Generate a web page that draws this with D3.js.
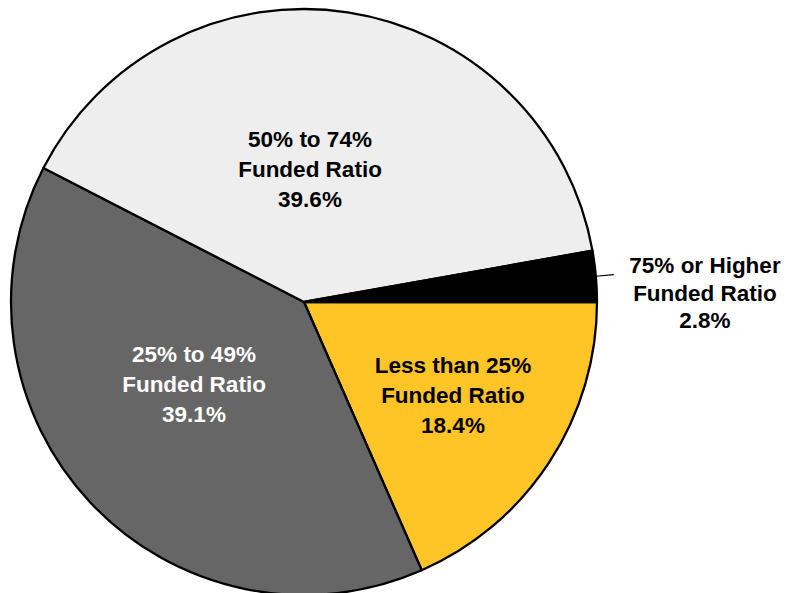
<!DOCTYPE html>
<html><head><meta charset="utf-8">
<script src="https://cdn.jsdelivr.net/npm/d3@7"></script>
<style>body{margin:0;background:#fff}svg{display:block}</style>
</head><body>
<svg id="c" width="788" height="593"></svg>
<script>
const categories = ["Less than 25%", "25% to 49%", "50% to 74%", "75% or Higher"];
const values = [18.4, 39.1, 39.6, 2.8];
const valueLabels = ["18.4%", "39.1%", "39.6%", "2.8%"];
const colors = ["#FFC425", "#666666", "#EEEEEE", "#000000"];
const textColors = ["#000", "#fff", "#000", "#000"];

const W = 788, H = 593, cx = 304, cy = 302, R = 293;
const svg = d3.select("#c");
const g = svg.append("g").attr("transform", `translate(${cx},${cy})`);
const data = categories.map((c, i) => ({c, v: values[i], lab: valueLabels[i], col: colors[i], tc: textColors[i]}));
const pie = d3.pie().value(d => d.v).sort(null).startAngle(Math.PI / 2).endAngle(Math.PI / 2 + 2 * Math.PI);
const arcs = pie(data);
const arc = d3.arc().innerRadius(0).outerRadius(R);

g.selectAll("path").data(arcs).enter().append("path")
  .attr("d", arc).attr("fill", d => d.data.col)
  .attr("stroke", "#000").attr("stroke-width", 2.3).attr("stroke-linejoin", "round");

// label placement: offsets from center (layout only)
const labelPos = [
  {x: 149, y: 93, ls: 30},
  {x: -110, y: 82, ls: 30},
  {x: 6, y: -133, ls: 30},
  {x: 401, y: -9, ls: 27.5}
];
const fs = 22.5;
arcs.forEach((a, i) => {
  const p = labelPos[i];
  const lines = [a.data.c, "Funded Ratio", a.data.lab];
  const t = g.append("text").attr("text-anchor", "middle")
    .attr("font-family", "'Liberation Sans', Arial, Helvetica, sans-serif")
    .attr("font-weight", "bold").attr("font-size", fs).attr("fill", a.data.tc);
  lines.forEach((l, k) => {
    t.append("tspan").attr("x", p.x).attr("y", p.y + (k - 1) * p.ls).attr("dy", "0.35em").text(l);
  });
});

// leader line for the small slice
const small = arcs[3];
const mid = (small.startAngle + small.endAngle) / 2;
const p0 = [Math.sin(mid) * R, -Math.cos(mid) * R];
const p1 = [Math.sin(mid) * (R + 18), -Math.cos(mid) * (R + 18)];
g.append("line").attr("x1", p0[0]).attr("y1", p0[1]).attr("x2", p1[0]).attr("y2", p1[1])
  .attr("stroke", "#000").attr("stroke-width", 1.2);
</script>
</body></html>
